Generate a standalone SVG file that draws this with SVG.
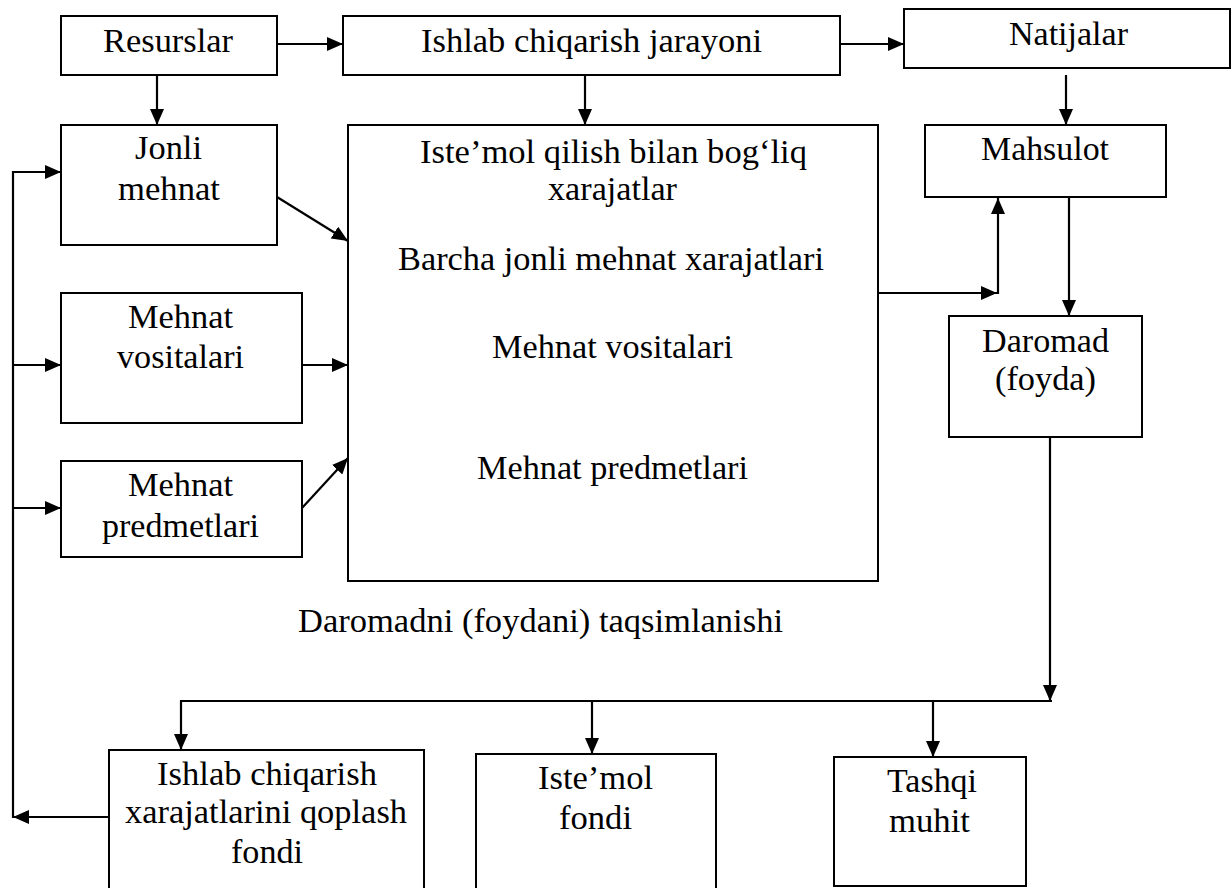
<svg xmlns="http://www.w3.org/2000/svg" width="1231" height="888" viewBox="0 0 1231 888">
<defs>
<style>
.box{fill:#fff;stroke:#000;stroke-width:2}
.t{font-family:'Liberation Serif','Times New Roman',serif;font-size:33.5px;fill:#000}
.c{fill:none;stroke:#000;stroke-width:2.2}
</style>
<marker id="ah" markerUnits="userSpaceOnUse" markerWidth="16" markerHeight="14" refX="16" refY="7" orient="auto">
<path d="M0,0 L16,7 L0,14 z" fill="#000"/>
</marker>
</defs>
<rect width="1231" height="888" fill="#fff"/>
<g id="connectors">
<line class="c" x1="277" y1="44" x2="343" y2="44" marker-end="url(#ah)"/>
<line class="c" x1="840" y1="44" x2="904" y2="44" marker-end="url(#ah)"/>
<line class="c" x1="157" y1="75" x2="157" y2="125" marker-end="url(#ah)"/>
<line class="c" x1="585" y1="75" x2="585" y2="125" marker-end="url(#ah)"/>
<line class="c" x1="1066" y1="75" x2="1066" y2="125" marker-end="url(#ah)"/>
<line class="c" x1="277" y1="197" x2="348" y2="241" marker-end="url(#ah)"/>
<line class="c" x1="302" y1="365" x2="348" y2="365" marker-end="url(#ah)"/>
<line class="c" x1="302" y1="508" x2="348" y2="458" marker-end="url(#ah)"/>
<line class="c" x1="878" y1="293" x2="997" y2="293" marker-end="url(#ah)"/>
<line class="c" x1="998" y1="294" x2="998" y2="198" marker-end="url(#ah)"/>
<line class="c" x1="1069" y1="197" x2="1069" y2="316" marker-end="url(#ah)"/>
<line class="c" x1="1050" y1="437" x2="1050" y2="701" marker-end="url(#ah)"/>
<line class="c" x1="181" y1="701" x2="1052" y2="701"/>
<line class="c" x1="181" y1="700" x2="181" y2="750" marker-end="url(#ah)"/>
<line class="c" x1="592" y1="701" x2="592" y2="754" marker-end="url(#ah)"/>
<line class="c" x1="933" y1="701" x2="933" y2="757" marker-end="url(#ah)"/>
<line class="c" x1="109" y1="817" x2="13" y2="817" marker-end="url(#ah)"/>
<line class="c" x1="13" y1="818" x2="13" y2="171"/>
<line class="c" x1="12" y1="172" x2="61" y2="172" marker-end="url(#ah)"/>
<line class="c" x1="13" y1="365" x2="61" y2="365" marker-end="url(#ah)"/>
<line class="c" x1="13" y1="508" x2="61" y2="508" marker-end="url(#ah)"/>
</g>
<g id="resurslar">
<rect class="box" x="61" y="16" width="216" height="59"/>
<text class="t" x="103" y="52" textLength="130" lengthAdjust="spacingAndGlyphs">Resurslar</text>
</g>
<g id="jarayon">
<rect class="box" x="343" y="16" width="497" height="59"/>
<text class="t" x="421" y="52" textLength="341" lengthAdjust="spacingAndGlyphs">Ishlab chiqarish jarayoni</text>
</g>
<g id="natijalar">
<rect class="box" x="904" y="9" width="326" height="59"/>
<text class="t" x="1009" y="45" textLength="119" lengthAdjust="spacingAndGlyphs">Natijalar</text>
</g>
<g id="jonli">
<rect class="box" x="61" y="125" width="216" height="120"/>
<text class="t" x="135" y="159" textLength="67" lengthAdjust="spacingAndGlyphs">Jonli</text>
<text class="t" x="118" y="200" textLength="102" lengthAdjust="spacingAndGlyphs">mehnat</text>
</g>
<g id="xarajatlar">
<rect class="box" x="348" y="125" width="530" height="456"/>
<text class="t" x="420" y="163" textLength="387" lengthAdjust="spacingAndGlyphs">Iste’mol qilish bilan bog‘liq</text>
<text class="t" x="548" y="200" textLength="129" lengthAdjust="spacingAndGlyphs">xarajatlar</text>
<text class="t" x="398" y="270" textLength="426" lengthAdjust="spacingAndGlyphs">Barcha jonli mehnat xarajatlari</text>
<text class="t" x="492" y="358" textLength="241" lengthAdjust="spacingAndGlyphs">Mehnat vositalari</text>
<text class="t" x="477" y="479" textLength="271" lengthAdjust="spacingAndGlyphs">Mehnat predmetlari</text>
</g>
<g id="mahsulot">
<rect class="box" x="925" y="125" width="241" height="72"/>
<text class="t" x="981" y="160" textLength="128" lengthAdjust="spacingAndGlyphs">Mahsulot</text>
</g>
<g id="vositalari">
<rect class="box" x="61" y="293" width="241" height="130"/>
<text class="t" x="128" y="328" textLength="105" lengthAdjust="spacingAndGlyphs">Mehnat</text>
<text class="t" x="117" y="368" textLength="127" lengthAdjust="spacingAndGlyphs">vositalari</text>
</g>
<g id="predmetlari">
<rect class="box" x="61" y="461" width="241" height="96"/>
<text class="t" x="128" y="496" textLength="105" lengthAdjust="spacingAndGlyphs">Mehnat</text>
<text class="t" x="102" y="537" textLength="157" lengthAdjust="spacingAndGlyphs">predmetlari</text>
</g>
<g id="daromad">
<rect class="box" x="949" y="316" width="193" height="121"/>
<text class="t" x="982" y="352" textLength="127" lengthAdjust="spacingAndGlyphs">Daromad</text>
<text class="t" x="995" y="390" textLength="101" lengthAdjust="spacingAndGlyphs">(foyda)</text>
</g>
<g id="taqsimlanish">
<text class="t" x="298" y="632" textLength="485" lengthAdjust="spacingAndGlyphs">Daromadni (foydani) taqsimlanishi</text>
</g>
<g id="qoplash">
<rect class="box" x="109" y="750" width="315" height="160"/>
<text class="t" x="157" y="785" textLength="220" lengthAdjust="spacingAndGlyphs">Ishlab chiqarish</text>
<text class="t" x="125" y="823" textLength="282" lengthAdjust="spacingAndGlyphs">xarajatlarini qoplash</text>
<text class="t" x="231" y="863" textLength="72" lengthAdjust="spacingAndGlyphs">fondi</text>
</g>
<g id="istemol">
<rect class="box" x="476" y="754" width="240" height="160"/>
<text class="t" x="538" y="789" textLength="115" lengthAdjust="spacingAndGlyphs">Iste’mol</text>
<text class="t" x="559" y="829" textLength="73" lengthAdjust="spacingAndGlyphs">fondi</text>
</g>
<g id="tashqi">
<rect class="box" x="834" y="757" width="192" height="129"/>
<text class="t" x="887" y="792" textLength="90" lengthAdjust="spacingAndGlyphs">Tashqi</text>
<text class="t" x="889" y="832" textLength="81" lengthAdjust="spacingAndGlyphs">muhit</text>
</g>
</svg>
